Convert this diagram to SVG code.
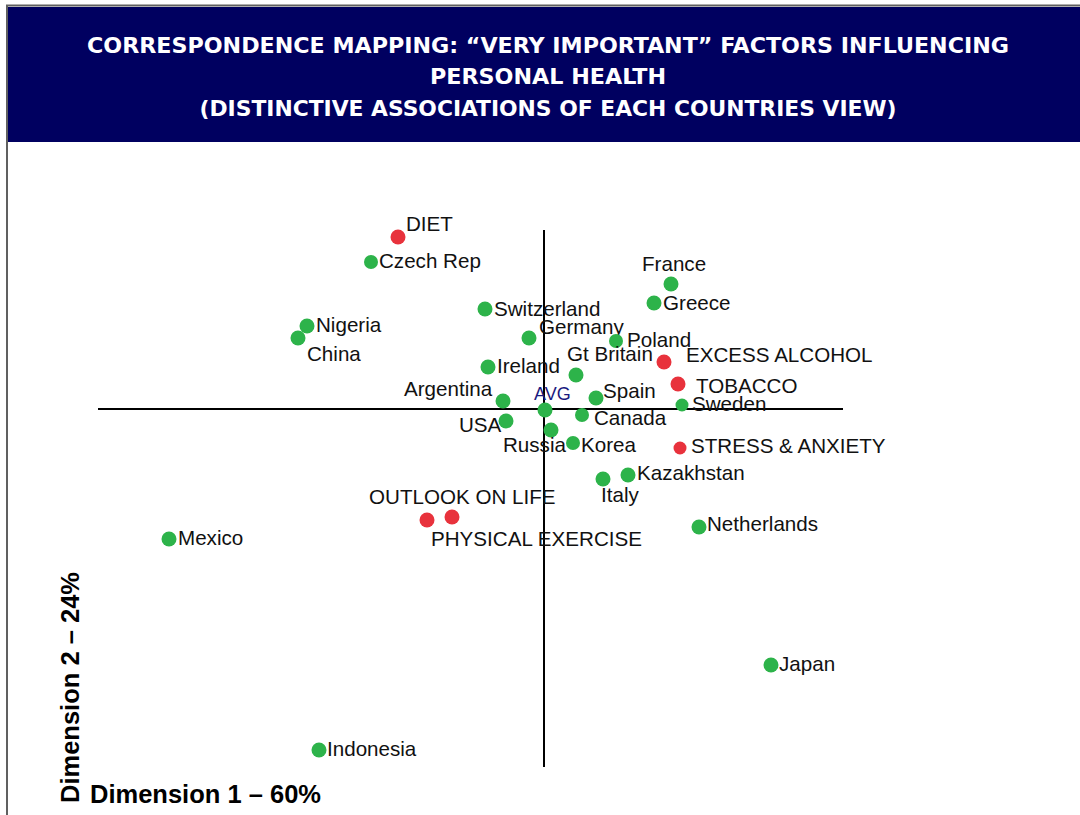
<svg xmlns="http://www.w3.org/2000/svg" width="1080" height="815" viewBox="0 0 1080 815">
<style>
.t{font-family:"DejaVu Sans Condensed","DejaVu Sans",sans-serif;font-weight:bold;font-size:21px;fill:#fff;text-anchor:middle}
.l{font-family:"Liberation Sans",Arial,sans-serif;font-size:20.6px;fill:#111}
.avg{font-family:"Liberation Sans",Arial,sans-serif;font-size:18px;fill:#1a1a80}
.ax{font-family:"Liberation Sans",Arial,sans-serif;font-size:25.5px;font-weight:bold;fill:#000}
.g{fill:#2db34a}
.r{fill:#e8323c}
</style>
<rect width="1080" height="815" fill="#fff"/>
<g id="frame">
<rect x="8" y="7" width="1072" height="135" fill="#000060"/>
<line x1="6" y1="5.5" x2="1080" y2="5.5" stroke="#606060" stroke-width="2"/>
<line x1="7" y1="5" x2="7" y2="815" stroke="#606060" stroke-width="2"/>
</g>
<g id="title">
<text class="t" x="548" y="53" textLength="922" lengthAdjust="spacingAndGlyphs">CORRESPONDENCE MAPPING: “VERY IMPORTANT” FACTORS INFLUENCING</text>
<text class="t" x="548" y="84" textLength="236" lengthAdjust="spacingAndGlyphs">PERSONAL HEALTH</text>
<text class="t" x="548" y="116" textLength="697" lengthAdjust="spacingAndGlyphs">(DISTINCTIVE ASSOCIATIONS OF EACH COUNTRIES VIEW)</text>
</g>
<g id="axes" stroke="#000" stroke-width="2">
<line x1="98" y1="409" x2="843" y2="409"/>
<line x1="544" y1="230" x2="544" y2="767"/>
</g>
<g id="axis-labels">
<text class="ax" x="90" y="803">Dimension 1 – 60%</text>
<text class="ax" transform="translate(79,803) rotate(-90)">Dimension 2 – 24%</text>
</g>
<g id="factors">
<g id="diet"><circle class="r" cx="398" cy="237" r="7.5"/><text class="l" x="406" y="231">DIET</text></g>
<g id="alcohol"><circle class="r" cx="664" cy="362" r="7.5"/><text class="l" x="686" y="362">EXCESS ALCOHOL</text></g>
<g id="tobacco"><circle class="r" cx="678" cy="384" r="7.5"/><text class="l" x="696" y="393">TOBACCO</text></g>
<g id="stress"><circle class="r" cx="680" cy="448" r="6.5"/><text class="l" x="691" y="453">STRESS &amp; ANXIETY</text></g>
<g id="outlook"><circle class="r" cx="427" cy="520" r="7.5"/><text class="l" x="369" y="504">OUTLOOK ON LIFE</text></g>
<g id="exercise"><circle class="r" cx="452" cy="517" r="7.5"/><text class="l" x="431" y="546">PHYSICAL EXERCISE</text></g>
</g>
<g id="countries">
<g id="czech"><circle class="g" cx="371" cy="262" r="7"/><text class="l" x="379" y="268">Czech Rep</text></g>
<g id="switzerland"><circle class="g" cx="485" cy="309" r="7.5"/><text class="l" x="494" y="316">Switzerland</text></g>
<g id="nigeria"><circle class="g" cx="307" cy="326" r="7.5"/><text class="l" x="316" y="332">Nigeria</text></g>
<g id="china"><circle class="g" cx="298" cy="338" r="7.5"/><text class="l" x="307" y="361">China</text></g>
<g id="germany"><circle class="g" cx="529" cy="338" r="7.5"/><text class="l" x="539" y="334">Germany</text></g>
<g id="france"><circle class="g" cx="671" cy="284" r="7.5"/><text class="l" x="642" y="271">France</text></g>
<g id="greece"><circle class="g" cx="654" cy="303" r="7.5"/><text class="l" x="663" y="310">Greece</text></g>
<g id="poland"><circle class="g" cx="616" cy="341" r="7"/><text class="l" x="627" y="347">Poland</text></g>
<g id="gtbritain"><circle class="g" cx="576" cy="375" r="7.5"/><text class="l" x="567" y="361">Gt Britain</text></g>
<g id="ireland"><circle class="g" cx="488" cy="367" r="7.5"/><text class="l" x="497" y="373">Ireland</text></g>
<g id="argentina"><circle class="g" cx="503" cy="401" r="7.5"/><text class="l" x="404" y="396">Argentina</text></g>
<g id="avg"><circle class="g" cx="545" cy="410" r="7.5"/><text class="avg" x="534" y="400">AVG</text></g>
<g id="spain"><circle class="g" cx="596" cy="398" r="7.5"/><text class="l" x="603" y="398">Spain</text></g>
<g id="sweden"><circle class="g" cx="682" cy="405" r="6.5"/><text class="l" x="692" y="411">Sweden</text></g>
<g id="canada"><circle class="g" cx="582" cy="415" r="7"/><text class="l" x="594" y="425">Canada</text></g>
<g id="usa"><circle class="g" cx="506" cy="421" r="7.5"/><text class="l" x="459" y="432">USA</text></g>
<g id="russia"><circle class="g" cx="551" cy="430" r="7.5"/><text class="l" x="503" y="452">Russia</text></g>
<g id="korea"><circle class="g" cx="573" cy="443" r="7"/><text class="l" x="581" y="452">Korea</text></g>
<g id="kazakhstan"><circle class="g" cx="628" cy="475" r="7.5"/><text class="l" x="637" y="480">Kazakhstan</text></g>
<g id="italy"><circle class="g" cx="603" cy="479" r="7.5"/><text class="l" x="601" y="502">Italy</text></g>
<g id="netherlands"><circle class="g" cx="699" cy="527" r="7.5"/><text class="l" x="707" y="531">Netherlands</text></g>
<g id="mexico"><circle class="g" cx="169" cy="539" r="7.5"/><text class="l" x="178" y="545">Mexico</text></g>
<g id="japan"><circle class="g" cx="771" cy="665" r="7.5"/><text class="l" x="779" y="671">Japan</text></g>
<g id="indonesia"><circle class="g" cx="319" cy="750" r="7.5"/><text class="l" x="327" y="756">Indonesia</text></g>
</g>
</svg>
